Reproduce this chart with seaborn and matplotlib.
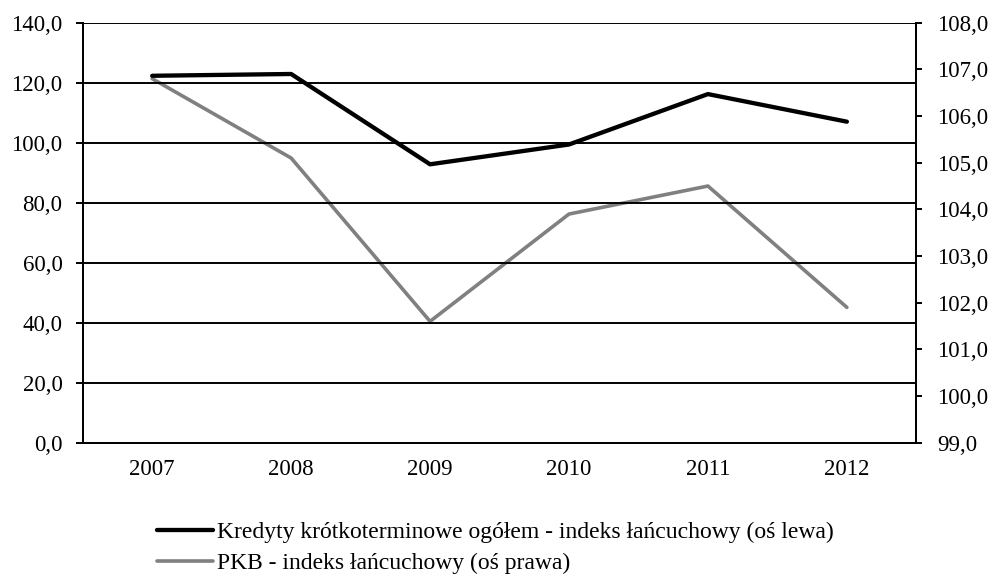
import numpy as np
import pandas as pd
import matplotlib
matplotlib.use("Agg")
import matplotlib.pyplot as plt
import seaborn as sns
from matplotlib.ticker import FuncFormatter, FixedLocator

# data
years = ["2007", "2008", "2009", "2010", "2011", "2012"]
kredyty = [122.3, 122.9, 92.8, 99.4, 116.2, 107.0]
pkb = [106.8, 105.1, 101.6, 103.9, 104.5, 101.9]
left_ticks = [0, 20, 40, 60, 80, 100, 120, 140]
right_ticks = [99, 100, 101, 102, 103, 104, 105, 106, 107, 108]
label_kredyty = "Kredyty krótkoterminowe ogółem - indeks łańcuchowy (oś lewa)"
label_pkb = "PKB - indeks łańcuchowy (oś prawa)"

df = pd.DataFrame({"rok": years, "kredyty": kredyty, "pkb": pkb})

sns.set_style("white")
plt.rcParams["font.family"] = ["Liberation Serif", "DejaVu Serif"]
plt.rcParams["font.size"] = 16
plt.rcParams["text.color"] = "black"
plt.rcParams["xtick.color"] = "black"
plt.rcParams["ytick.color"] = "black"

fig = plt.figure(figsize=(9.93, 5.77), dpi=100)
ax = fig.add_axes([0.0833, 0.2327, 0.8395, 0.7280])
ax2 = ax.twinx()

sns.lineplot(data=df, x="rok", y="kredyty", ax=ax, color="black", linewidth=3.1,
             label=label_kredyty, legend=False, zorder=4)
sns.lineplot(data=df, x="rok", y="pkb", ax=ax2, color="#808080", linewidth=2.6,
             label=label_pkb, legend=False, zorder=3)

fmt = FuncFormatter(lambda v, p: f"{v:.1f}".replace(".", ","))

ax.set_ylim(0, 140)
ax.set_yticks(left_ticks)
ax.yaxis.set_major_formatter(fmt)
ax2.set_ylim(99, 108)
ax2.set_yticks(right_ticks)
ax2.yaxis.set_major_formatter(fmt)

ax.set_xlim(-0.5, len(years) - 0.5)
ax.set_xticks(range(len(years)))
ax.set_xticklabels(years)
ax.xaxis.set_minor_locator(FixedLocator(np.arange(-0.5, len(years), 1.0)))
ax.tick_params(axis="x", which="major", length=0, pad=12, labelsize=16.5, labelcolor="black")
ax.tick_params(axis="x", which="minor", length=4.5, width=1.4, direction="out", color="black")
ax.tick_params(axis="y", length=5, width=1.4, direction="out", color="black", pad=9.5,
               labelsize=16.5, labelcolor="black")
ax2.tick_params(axis="y", length=4, width=1.4, direction="out", color="black", pad=11,
                labelsize=16.5, labelcolor="black")

ax.set_xlabel("")
ax.set_ylabel("")
ax2.set_ylabel("")

for a in (ax, ax2):
    a.spines["top"].set_visible(False)
    for s in ("left", "right", "bottom"):
        a.spines[s].set_color("black")
        a.spines[s].set_linewidth(1.4)

ax.yaxis.grid(True, color="black", linewidth=1.4)
ax.set_axisbelow(True)
ax.set_zorder(ax2.get_zorder() + 1)
ax.patch.set_visible(False)

h1, l1 = ax.get_legend_handles_labels()
h2, l2 = ax2.get_legend_handles_labels()
leg = fig.legend(h1 + h2, l1 + l2, loc="center left", bbox_to_anchor=(0.158, 0.050),
                 frameon=False, handlelength=2.37, handletextpad=0.17, labelspacing=0.4,
                 borderpad=0, borderaxespad=0, fontsize=17)
for t in leg.get_texts():
    t.set_color("black")

fig.savefig("out.png", dpi=100)
